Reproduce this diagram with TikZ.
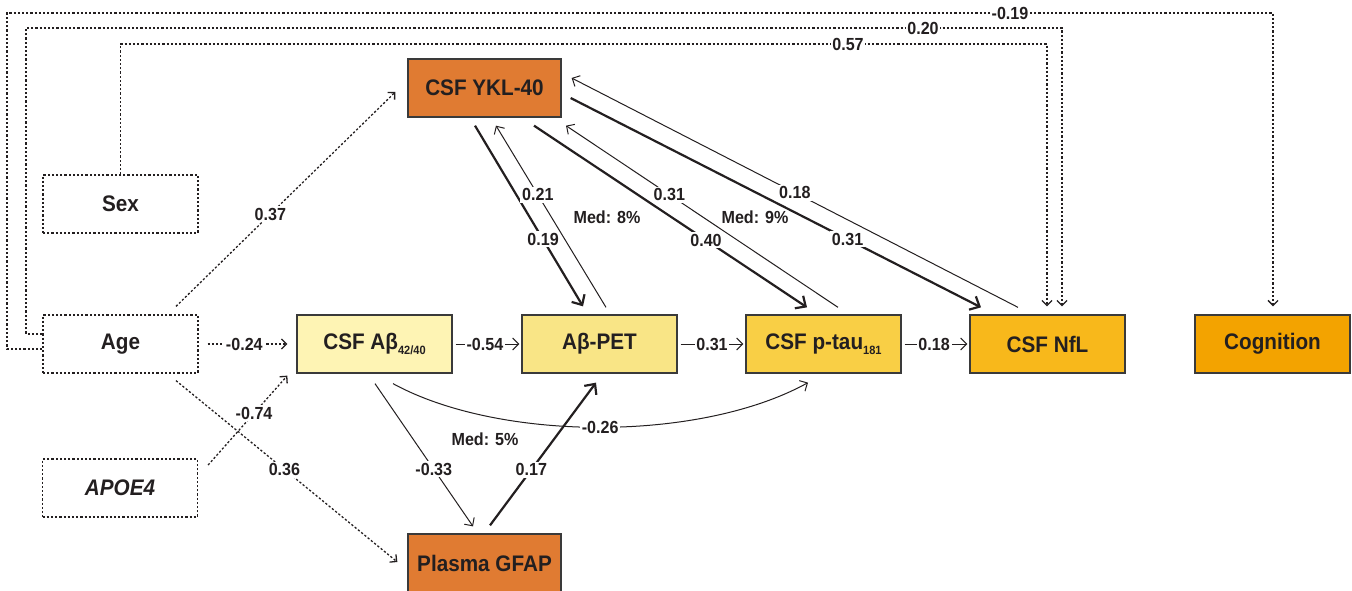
\documentclass[tikz,border=0pt]{standalone}
\usepackage{fontspec}
\setmainfont{Liberation Sans}[FakeStretch=0.92]
\usetikzlibrary{arrows.meta,calc}

\definecolor{ink}{HTML}{231F20}
\definecolor{edge}{HTML}{3A3A3A}
\definecolor{cykl}{HTML}{E07B32}
\definecolor{cab}{HTML}{FEF4B4}
\definecolor{cpet}{HTML}{F9E586}
\definecolor{cptau}{HTML}{F9CF45}
\definecolor{cnfl}{HTML}{F8B81B}
\definecolor{ccog}{HTML}{F3A300}

% lowered small index used in the biomarker names
\newcommand{\lowidx}[1]{\raisebox{-5pt}{\fontsize{12}{13}\selectfont #1}}

\begin{document}
\begin{tikzpicture}[x=1pt,y=-1pt,
  box/.style={draw=edge, line width=1.3pt, minimum width=155pt, minimum height=58pt,
    inner sep=0pt, text=ink, font=\fontsize{22.5}{25}\selectfont\bfseries},
  covbox/.style={box, draw=ink, fill=white, line width=1.3pt, dash pattern=on 2.2pt off 2pt},
  val/.style={text=ink, fill=white, inner sep=1.8pt, font=\fontsize{17.5}{19}\selectfont\bfseries},
  medlbl/.style={text=ink, inner sep=1pt, font=\fontsize{17.5}{19}\selectfont\bfseries},
  thinarr/.style={draw=ink, line width=1pt, -{Straight Barb[length=6pt,width=12pt]}},
  thickarr/.style={draw=ink, line width=2.2pt, -{Straight Barb[length=8pt,width=15pt]}},
  dotline/.style={draw=ink, line width=1.3pt, dash pattern=on 2.2pt off 2pt},
  dotarr/.style={dotline, -{Straight Barb[length=5pt,width=10pt]}}
]
\useasboundingbox (0,0) rectangle (1352,591);

% boxes
\node[box, fill=cykl, minimum width=153pt] (ykl) at (484.5,88) {CSF YKL-40};
\node[covbox] (sex) at (120.5,204) {Sex};
\node[covbox] (age) at (120.5,344) {Age};
\node[covbox] (apoe) at (120,488) {\itshape APOE4};
\node[box, fill=cab] (ab) at (374.5,344) {CSF Aβ\lowidx{42/40}};
\node[box, fill=cpet] (pet) at (599.5,344) {Aβ-PET};
\node[box, fill=cptau] (ptau) at (823.5,344) {CSF p-tau\lowidx{181}};
\node[box, fill=cnfl] (nfl) at (1047.5,344) {CSF NfL};
\node[box, fill=ccog] (cog) at (1272.5,344) {Cognition};
\node[box, fill=cykl, minimum width=153pt] (gfap) at (484.5,563) {Plasma GFAP};

% covariate paths over the top
\coordinate (c19l) at (7,13);    \coordinate (c19r) at (1273,13);
\coordinate (c20l) at (26,28);   \coordinate (c20r) at (1062,28);
\coordinate (c57l) at (120.5,44); \coordinate (c57r) at (1047,44);
\draw[dotarr] ($(age.west)+(0,5)$) -| (c19l) -- (c19r) -- ($(cog.north)+(0.5,-8)$);
\draw[dotarr] ($(age.west)+(0,-10)$) -| (c20l) -- (c20r) -- ($(nfl.north)+(14.5,-8)$);
\draw[dotarr] (sex.north) -- (c57l) -- (c57r) -- ($(nfl.north)+(-0.5,-8)$);
\node[val] (l19) at (1010,13) {-0.19};
\node[val] (l20) at (923,28) {0.20};
\node[val] (l57) at (848,44) {0.57};

% covariate paths on the left
\draw[dotarr] ($(age.north)+(55.5,-8)$) -- node[val, pos=0.43] {0.37} ($(ykl.west)+(-12,4)$);
\draw[dotarr] ($(age.east)+(9,0)$) -- node[val, pos=0.46] {-0.24} ($(ab.west)+(-9,0)$);
\draw[dotarr] ($(apoe.east)+(10,-23)$) -- node[val, pos=0.58] {-0.74} ($(ab.south west)+(-9,2)$);
\draw[dotarr] ($(age.south)+(55.5,7)$) -- node[val, pos=0.49] {0.36} ($(gfap.west)+(-10,-1)$);

% main chain
\draw[thinarr] ($(ab.east)+(3,0)$) -- node[val, pos=0.46] {-0.54} ($(pet.west)+(-2,0)$);
\draw[thinarr] ($(pet.east)+(3,0)$) -- node[val, pos=0.5] {0.31} ($(ptau.west)+(-2,0)$);
\draw[thinarr] ($(ptau.east)+(3,0)$) -- node[val, pos=0.47] {0.18} ($(nfl.west)+(-2,0)$);
\draw[thinarr] ($(ab.south)+(18.5,10)$) .. controls (500,442) and (700,442) ..
  node[val, pos=0.5] {-0.26} ($(ptau.south)+(-15.5,9)$);

% plasma GFAP
\draw[thinarr] ($(ab.south)+(0.5,10)$) -- node[val, pos=0.6] {-0.33} ($(gfap.north)+(-11.5,-7)$);
\draw[thickarr] ($(gfap.north)+(5.5,-8)$) -- node[val, pos=0.39] {0.17} ($(pet.south)+(-3.5,9)$);
\node[medlbl] (m5) at (485,439) {Med: 5\%};

% CSF YKL-40 paths
\draw[thickarr] ($(ykl.south)+(-9.5,8)$) -- node[val, pos=0.63] {0.19} ($(pet.north)+(-16.5,-8)$);
\draw[thinarr] ($(pet.north)+(6.5,-7)$) -- node[val, pos=0.62] {0.21} ($(ykl.south)+(11.5,8)$);
\draw[thickarr] ($(ykl.south)+(49.5,8)$) -- node[val, pos=0.63] {0.40} ($(ptau.north)+(-16.5,-7)$);
\draw[thinarr] ($(ptau.north)+(14.5,-7)$) -- node[val, pos=0.62] {0.31} ($(ykl.south)+(81.5,8)$);
\draw[thickarr] ($(ykl.east)+(9,10)$) -- node[val, pos=0.675] {0.31} ($(nfl.north)+(-66.5,-7)$);
\draw[thinarr] ($(nfl.north)+(-29.5,-7)$) -- node[val, pos=0.5] {0.18} ($(ykl.east)+(10,-10)$);
\node[medlbl] (m8) at (607,217) {Med: 8\%};
\node[medlbl] (m9) at (755,217) {Med: 9\%};
\end{tikzpicture}
\end{document}
